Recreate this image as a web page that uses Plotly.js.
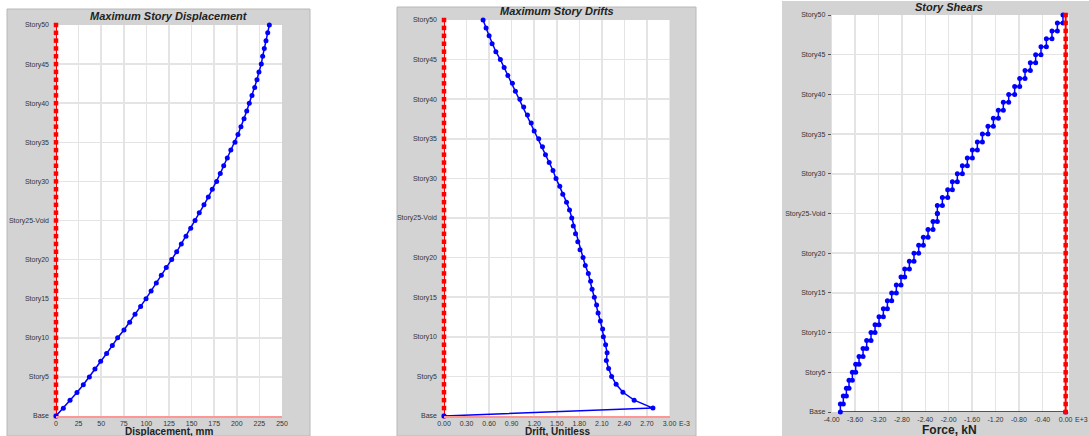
<!DOCTYPE html>
<html>
<head>
<meta charset="utf-8">
<script src="https://cdn.plot.ly/plotly-3.0.1.min.js"></script>
<style>html,body{margin:0;padding:0;background:#fff;}#chart{width:1089px;height:436px;}</style>
</head>
<body>
<div id="chart"></div>
<script>
// ---------- DATA ----------
const storyLevels = [0,1,2,3,4,5,6,7,8,9,10,11,12,13,14,15,16,17,18,19,20,21,22,23,24,25,26,27,28,29,30,31,32,33,34,35,36,37,38,39,40,41,42,43,44,45,46,47,48,49,50];
const storyTickVals = [0,5,10,15,20,25,30,35,40,45,50];
const storyTickText = ['Base','Story5','Story10','Story15','Story20','Story25-Void','Story30','Story35','Story40','Story45','Story50'];

// Maximum story displacement, mm (Base .. Story50)
const displacement = [0, 8.1, 15.5, 23.2, 30.2, 36.9, 43.1, 49.4, 56.0, 62.3, 68.2, 75.2, 81.5, 87.4, 93.6, 99.6,
  105.2, 111.0, 116.5, 122.0, 128.0, 133.5, 138.6, 143.8, 149.0, 153.8, 158.5, 163.7, 168.5, 172.9, 177.7,
  181.7, 185.5, 189.5, 193.4, 198.0, 201.3, 204.6, 208.0, 211.0, 213.8, 216.8, 219.8, 222.3, 224.5, 227.1,
  228.6, 230.4, 232.3, 234.2, 236.0];

// Maximum story drift, x1E-3 (Base .. Story50)
const drift = [0, 2.78, 2.53, 2.38, 2.29, 2.23, 2.19, 2.16, 2.17, 2.15, 2.12, 2.11, 2.08, 2.05, 2.03, 2.00,
  1.97, 1.95, 1.92, 1.88, 1.85, 1.81, 1.78, 1.75, 1.72, 1.70, 1.67, 1.63, 1.58, 1.54, 1.49, 1.45, 1.40, 1.35,
  1.31, 1.26, 1.20, 1.16, 1.11, 1.06, 1.01, 0.95, 0.91, 0.85, 0.80, 0.75, 0.69, 0.64, 0.60, 0.56, 0.52];

// Story shear, x1E+3 kN (Story1 .. Story50)
const shear = [-3.852,-3.801,-3.749,-3.704,-3.647,-3.590,-3.533,-3.464,-3.402,-3.328,
  -3.259,-3.191,-3.117,-3.048,-2.974,-2.895,-2.815,-2.752,-2.672,-2.593,
  -2.513,-2.433,-2.353,-2.268,-2.194,-2.194,-2.108,-2.017,-1.937,-1.852,
  -1.766,-1.681,-1.595,-1.510,-1.424,-1.328,-1.236,-1.151,-1.066,-0.974,
  -0.872,-0.786,-0.695,-0.604,-0.513,-0.422,-0.330,-0.234,-0.142,-0.046];

const dispTicks = [0,25,50,75,100,125,150,175,200,225,250];
const dispTickText = ['0','25','50','75','100','125','150','175','200','225','250'];
const driftTicks = [0,0.3,0.6,0.9,1.2,1.5,1.8,2.1,2.4,2.7,3.0];
const driftTickText = ['0.00','0.30','0.60','0.90','1.20','1.50','1.80','2.10','2.40','2.70','3.00'];
const shearTicks = [-4.0,-3.6,-3.2,-2.8,-2.4,-2.0,-1.6,-1.2,-0.8,-0.4,0];
const shearTickText = ['-4.00','-3.60','-3.20','-2.80','-2.40','-2.00','-1.60','-1.20','-0.80','-0.40','0.00'];

const titles = ['Maximum Story Displacement','Maximum Story Drifts','Story Shears'];
const axisTitles = ['Displacement, mm','Drift, Unitless','Force, kN'];
const exponents = ['E-3','E+3'];

// ---------- BUILD ----------
const W = 1089, H = 436;
const px = v => v / W;
const py = v => 1 - v / H;

const zeros = storyLevels.map(() => 0);
// step path for shear
const shX = [0], shY = [0];
for (let i = 0; i < shear.length; i++) {
  shX.push(shear[i]); shY.push(storyLevels[i]);
  shX.push(shear[i]); shY.push(storyLevels[i + 1]);
}

const blue = 'rgb(0,0,255)', red = 'rgb(255,0,0)';
const redTrace = (xa, ya) => ({
  x: zeros, y: storyLevels, xaxis: xa, yaxis: ya, type: 'scatter', mode: 'lines+markers',
  line: {color: red, width: 2}, marker: {color: red, symbol: 'square', size: 4.5},
  cliponaxis: false, hoverinfo: 'skip'
});
const blueTrace = (x, y, xa, ya) => ({
  x: x, y: y, xaxis: xa, yaxis: ya, type: 'scatter', mode: 'lines+markers',
  line: {color: blue, width: 1.5}, marker: {color: blue, symbol: 'circle', size: 5},
  cliponaxis: false, hoverinfo: 'skip'
});

const data = [
  redTrace('x', 'y'),
  blueTrace(displacement, storyLevels, 'x', 'y'),
  redTrace('x2', 'y2'),
  blueTrace(drift, storyLevels, 'x2', 'y2'),
  blueTrace(shX, shY, 'x3', 'y3'),
  redTrace('x3', 'y3')
];

const fam = 'Liberation Sans, Arial, sans-serif';
const tickFont = {family: fam, size: 7, color: '#333333'};
const gridColor = '#e4e4e4';
const xCommon = {showgrid: true, gridcolor: gridColor, gridwidth: 1.5, zeroline: false, tickmode: 'array',
  tickfont: tickFont, ticks: '', automargin: false, fixedrange: true};
const yCommon = {showgrid: true, gridcolor: gridColor, gridwidth: 1.5, zeroline: false, tickmode: 'array',
  tickvals: storyTickVals, ticktext: storyTickText, tickfont: tickFont, range: [0, 50],
  automargin: false, fixedrange: true};

const d1 = [px(56), px(282)], d2 = [px(444), px(669.5)], d3 = [px(831.7), px(1069)];

const layout = {
  width: W, height: H,
  margin: {l: 0, r: 0, t: 0, b: 0},
  paper_bgcolor: '#ffffff', plot_bgcolor: '#ffffff',
  showlegend: false,
  xaxis: Object.assign({}, xCommon, {domain: d1, anchor: 'y', range: [0, 250], tickvals: dispTicks, ticktext: dispTickText,
    showline: true, linecolor: 'rgb(255,150,150)', linewidth: 2, ticklabelstandoff: 0}),
  yaxis: Object.assign({}, yCommon, {domain: [py(416), py(25)], anchor: 'x', ticks: '', ticklabelstandoff: 6}),
  xaxis2: Object.assign({}, xCommon, {domain: d2, anchor: 'y2', range: [0, 3.0], tickvals: driftTicks, ticktext: driftTickText,
    showline: true, linecolor: 'rgb(255,150,150)', linewidth: 2, ticklabelstandoff: 0}),
  yaxis2: Object.assign({}, yCommon, {domain: [py(416), py(20)], anchor: 'x2', ticks: '', ticklabelstandoff: 6}),
  xaxis3: Object.assign({}, xCommon, {domain: d3, anchor: 'y3', range: [-4.0, (1069 - 1065.67) / 58.5], tickvals: shearTicks, ticktext: shearTickText,
    ticklabelstandoff: 2}),
  yaxis3: Object.assign({}, yCommon, {domain: [py(412), py(15)], anchor: 'x3', ticks: 'outside', ticklen: 3, tickcolor: '#555', tickwidth: 1, ticklabelstandoff: 1}),
  shapes: [
    {type: 'rect', xref: 'paper', yref: 'paper', x0: px(7), x1: px(310), y0: 0, y1: py(9), fillcolor: '#d3d3d3', line: {color: '#b8b8b8', width: 1}, layer: 'below'},
    {type: 'rect', xref: 'paper', yref: 'paper', x0: px(397), x1: px(696), y0: 0, y1: py(7), fillcolor: '#d3d3d3', line: {color: '#b8b8b8', width: 1}, layer: 'below'},
    {type: 'rect', xref: 'paper', yref: 'paper', x0: px(782), x1: px(1090), y0: 0, y1: py(1), fillcolor: '#d3d3d3', line: {width: 0}, layer: 'below'},
    {type: 'rect', xref: 'x domain', yref: 'y domain', x0: 0, x1: 1, y0: 0, y1: 1, fillcolor: '#ffffff', line: {width: 0}, layer: 'below'},
    {type: 'rect', xref: 'x2 domain', yref: 'y2 domain', x0: 0, x1: 1, y0: 0, y1: 1, fillcolor: '#ffffff', line: {width: 0}, layer: 'below'},
    {type: 'rect', xref: 'x3 domain', yref: 'y3 domain', x0: 0, x1: 1, y0: 0, y1: 1, fillcolor: '#ffffff', line: {width: 0}, layer: 'below'}
  ],
  annotations: [
    {text: '<b><i>' + titles[0] + '</i></b>', xref: 'paper', yref: 'paper', x: px(169), y: py(16), showarrow: false,
      font: {family: fam, size: 11, color: '#222'}, xanchor: 'center', yanchor: 'middle'},
    {text: '<b><i>' + titles[1] + '</i></b>', xref: 'paper', yref: 'paper', x: px(557), y: py(11), showarrow: false,
      font: {family: fam, size: 11, color: '#222'}, xanchor: 'center', yanchor: 'middle'},
    {text: '<b><i>' + titles[2] + '</i></b>', xref: 'paper', yref: 'paper', x: px(949), y: py(7), showarrow: false,
      font: {family: fam, size: 11, color: '#222'}, xanchor: 'center', yanchor: 'middle'},
    {text: '<b>' + axisTitles[0] + '</b>', xref: 'paper', yref: 'paper', x: px(169), y: 0, showarrow: false,
      font: {family: fam, size: 10, color: '#222'}, xanchor: 'center', yanchor: 'bottom', yshift: -3},
    {text: '<b>' + axisTitles[1] + '</b>', xref: 'paper', yref: 'paper', x: px(557), y: 0, showarrow: false,
      font: {family: fam, size: 10, color: '#222'}, xanchor: 'center', yanchor: 'bottom', yshift: -3},
    {text: '<b>' + axisTitles[2] + '</b>', xref: 'paper', yref: 'paper', x: px(949), y: py(430), showarrow: false,
      font: {family: fam, size: 12, color: '#222'}, xanchor: 'center', yanchor: 'middle'},
    {text: exponents[0], xref: 'paper', yref: 'paper', x: px(677), y: py(423), showarrow: false,
      font: tickFont, xanchor: 'left', yanchor: 'middle'},
    {text: exponents[1], xref: 'paper', yref: 'paper', x: px(1073), y: py(419), showarrow: false,
      font: tickFont, xanchor: 'left', yanchor: 'middle'}
  ]
};

Plotly.newPlot('chart', data, layout, {staticPlot: true, displayModeBar: false});
</script>
</body>
</html>
